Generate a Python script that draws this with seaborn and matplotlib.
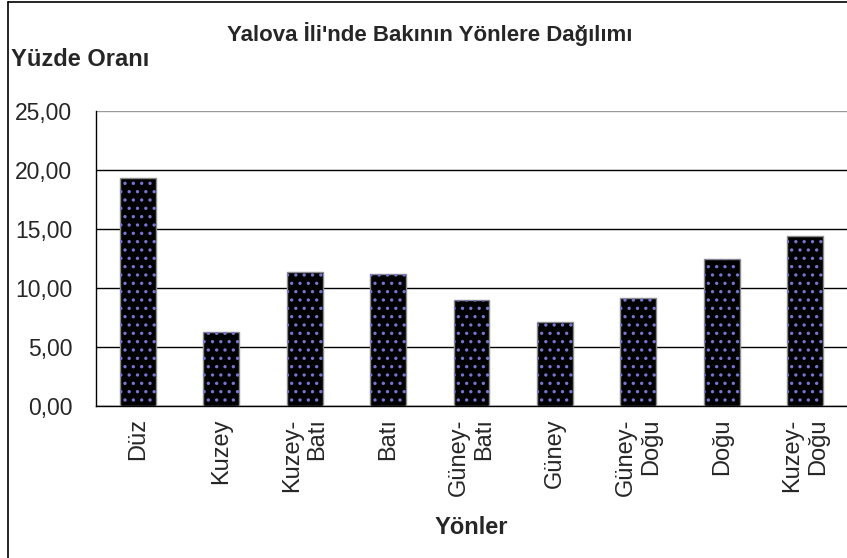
import numpy as np
import matplotlib.pyplot as plt
import seaborn as sns
from matplotlib.patches import Rectangle
from matplotlib.lines import Line2D
from matplotlib.ticker import FuncFormatter, FixedLocator

sns.set_style('white')
plt.rcParams['font.family'] = ['Liberation Sans', 'DejaVu Sans']
plt.rcParams['hatch.linewidth'] = 1.2

yonler = ['Düz', 'Kuzey', 'Kuzey-\nBatı', 'Batı', 'Güney-\nBatı', 'Güney',
          'Güney-\nDoğu', 'Doğu', 'Kuzey-\nDoğu']
oran = [19.30, 6.25, 11.35, 11.20, 8.95, 7.10, 9.15, 12.50, 14.40]
y_ticks = [0, 5, 10, 15, 20, 25]

title = "Yalova İli'nde Bakının Yönlere Dağılımı"

fig = plt.figure(figsize=(8.47, 5.58), dpi=100)
ax = fig.add_axes([96/847, 152/558, 751/847, 295/558])

sns.barplot(x=yonler, y=oran, color='black', width=0.43, edgecolor='#8c8c8c',
            linewidth=1, saturation=1, ax=ax, zorder=3)

# dotted fill like the excel pattern
for p in list(ax.patches):
    ax.add_patch(Rectangle((p.get_x(), p.get_y()), p.get_width(), p.get_height(),
                           fill=False, hatch='..', edgecolor='#7676d2', linewidth=0, zorder=4))

ax.set_xlim(-0.5, len(yonler) - 0.5)
ax.set_ylim(0, 25)
ax.set_yticks(y_ticks)
ax.yaxis.set_major_formatter(FuncFormatter(lambda v, pos: f'{v:.2f}'.replace('.', ',')))
ax.tick_params(axis='y', labelsize=16.5, length=8, width=1, direction='out', pad=9, color='black')
ax.xaxis.set_minor_locator(FixedLocator(np.arange(-0.5, len(yonler), 1)))
ax.tick_params(axis='x', which='major', length=0, pad=9, labelsize=17)
ax.tick_params(axis='x', which='minor', length=8, width=1, direction='out', color='black')
for lab in ax.get_xticklabels():
    lab.set_rotation(90)
    lab.set_ha('center')
    lab.set_va('top')
    lab.set_multialignment('right')

ax.yaxis.grid(True, color='black', linewidth=1)
ax.set_axisbelow(True)
ax.get_ygridlines()[-1].set_color('#9a9a9a')
for s in ['top', 'right']:
    ax.spines[s].set_visible(False)
for s in ['left', 'bottom']:
    ax.spines[s].set_color('black')
    ax.spines[s].set_linewidth(1)
ax.set_xlabel('')
ax.set_ylabel('')

fig.text(430/847, 1 - 34/558, title, ha='center', va='center', fontsize=16, fontweight='bold')
fig.text(11/847, 1 - 60/558, 'Yüzde Oranı', ha='left', va='center', fontsize=17, fontweight='bold')
fig.text((96 + 847) / 2 / 847, 1 - 527/558, 'Yönler', ha='center', va='center', fontsize=17, fontweight='bold')

# chart area border
fig.add_artist(Line2D([8/847, 8/847], [0, 1 - 2/558], color='black', linewidth=1.2))
fig.add_artist(Line2D([8/847, 1], [1 - 2/558, 1 - 2/558], color='black', linewidth=1.2))

fig.savefig('out.png', dpi=100)
